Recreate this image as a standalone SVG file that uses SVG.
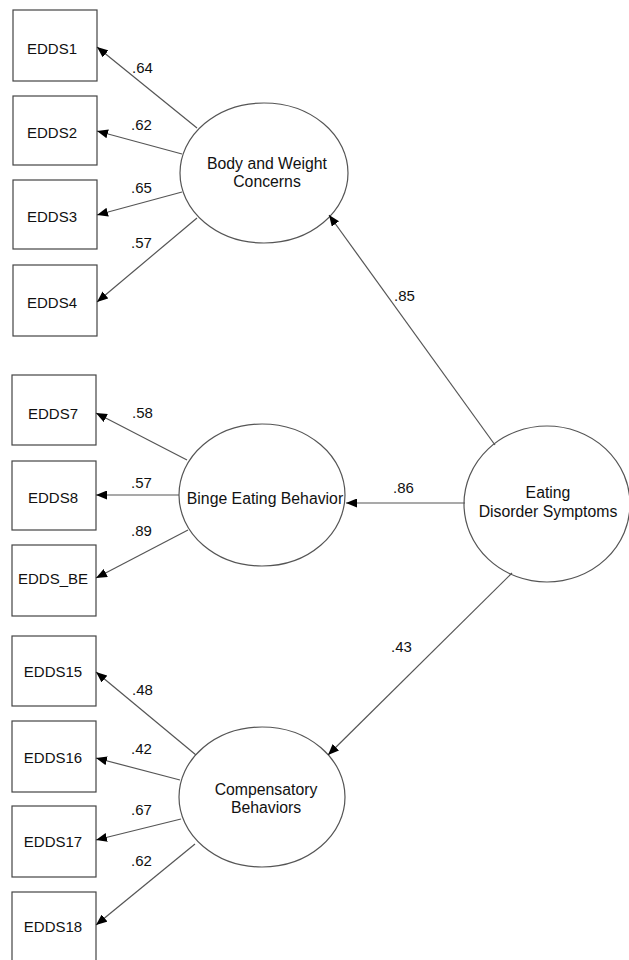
<svg xmlns="http://www.w3.org/2000/svg" width="629" height="960" viewBox="0 0 629 960">
<style>
.box{fill:#fff;stroke:#444;stroke-width:1.2}
.lat{fill:#fff;stroke:#555;stroke-width:1.2}
.t{font-family:"Liberation Sans",Arial,sans-serif;font-size:15px;fill:#111;text-anchor:middle}
.e{font-size:15.8px}
.lbl{font-family:"Liberation Sans",Arial,sans-serif;font-size:15px;fill:#111}
.c line{stroke:#555;stroke-width:1.2;marker-end:url(#ah)}
</style>
<defs>
<marker id="ah" markerUnits="userSpaceOnUse" markerWidth="11" markerHeight="9" refX="11" refY="4.5" orient="auto">
<path d="M0,0 L11,4.5 L0,9 z" fill="#000"/>
</marker>
</defs>
<rect width="629" height="960" fill="#fff"/>
<g id="EDDS1"><rect class="box" x="13" y="10" width="84" height="71"/><text class="t" x="52" y="54">EDDS1</text></g>
<g id="EDDS2"><rect class="box" x="13" y="96" width="84" height="69"/><text class="t" x="52" y="138">EDDS2</text></g>
<g id="EDDS3"><rect class="box" x="13" y="180" width="84" height="69"/><text class="t" x="52" y="222">EDDS3</text></g>
<g id="EDDS4"><rect class="box" x="13" y="265" width="84" height="71"/><text class="t" x="52" y="308">EDDS4</text></g>
<g id="EDDS7"><rect class="box" x="12" y="375" width="84" height="70"/><text class="t" x="53" y="419">EDDS7</text></g>
<g id="EDDS8"><rect class="box" x="12" y="461" width="84" height="69"/><text class="t" x="53" y="503">EDDS8</text></g>
<g id="EDDS_BE"><rect class="box" x="12" y="545" width="84" height="71"/><text class="t" x="53" y="584">EDDS_BE</text></g>
<g id="EDDS15"><rect class="box" x="12" y="636" width="84" height="70"/><text class="t" x="53" y="677">EDDS15</text></g>
<g id="EDDS16"><rect class="box" x="12" y="721" width="84" height="71"/><text class="t" x="53" y="763">EDDS16</text></g>
<g id="EDDS17"><rect class="box" x="12" y="806" width="84" height="71"/><text class="t" x="53" y="847">EDDS17</text></g>
<g id="EDDS18"><rect class="box" x="12" y="892" width="84" height="75"/><text class="t" x="53" y="932">EDDS18</text></g>
<g id="BWC"><ellipse class="lat" cx="264" cy="173" rx="84" ry="70"/><text class="t e" x="267" y="169">Body and Weight</text><text class="t e" x="267" y="187">Concerns</text></g>
<g id="BEB"><ellipse class="lat" cx="262" cy="495" rx="83" ry="71"/><text class="t e" x="265" y="504">Binge Eating Behavior</text></g>
<g id="CB"><ellipse class="lat" cx="262" cy="797" rx="83" ry="70"/><text class="t e" x="266" y="795">Compensatory</text><text class="t e" x="266" y="813">Behaviors</text></g>
<g id="EDS"><ellipse class="lat" cx="547" cy="504" rx="83" ry="78"/><text class="t e" x="548" y="498">Eating</text><text class="t e" x="548" y="517">Disorder Symptoms</text></g>
<g class="c" id="connectors">
<line x1="197" y1="128" x2="97" y2="47"/>
<line x1="182" y1="154" x2="97" y2="131"/>
<line x1="182" y1="192" x2="97" y2="215"/>
<line x1="197" y1="218" x2="97" y2="302"/>
<line x1="187" y1="460" x2="96" y2="413"/>
<line x1="179" y1="495" x2="96" y2="495"/>
<line x1="188" y1="530" x2="96" y2="578"/>
<line x1="196" y1="755" x2="96" y2="672"/>
<line x1="180" y1="780" x2="96" y2="758"/>
<line x1="181" y1="819" x2="96" y2="840"/>
<line x1="195" y1="844" x2="96" y2="925"/>
<line x1="495" y1="445" x2="329" y2="215"/>
<line x1="465" y1="503" x2="346" y2="503"/>
<line x1="512" y1="573" x2="328" y2="755"/>
</g>
<g id="labels">
<text class="lbl" x="132" y="73">.64</text>
<text class="lbl" x="131" y="130">.62</text>
<text class="lbl" x="131" y="193">.65</text>
<text class="lbl" x="131" y="248">.57</text>
<text class="lbl" x="132" y="418">.58</text>
<text class="lbl" x="131" y="488">.57</text>
<text class="lbl" x="131" y="536">.89</text>
<text class="lbl" x="132" y="695">.48</text>
<text class="lbl" x="131" y="754">.42</text>
<text class="lbl" x="131" y="815">.67</text>
<text class="lbl" x="131" y="866">.62</text>
<text class="lbl" x="394" y="301">.85</text>
<text class="lbl" x="393" y="493">.86</text>
<text class="lbl" x="391" y="652">.43</text>
</g>
</svg>
